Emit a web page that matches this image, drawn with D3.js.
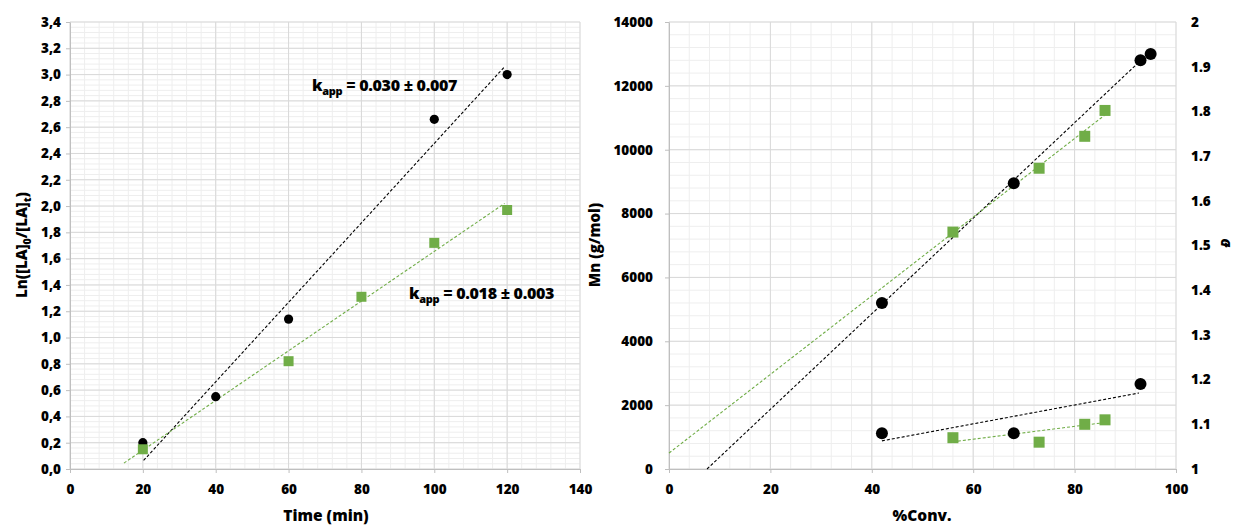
<!DOCTYPE html>
<html>
<head>
<meta charset="utf-8">
<script src="https://cdn.jsdelivr.net/npm/d3@7"></script>
<style>
  body { margin: 0; background: #fff; }
  svg { display: block; font-family: "Open Sans", Lato, sans-serif; font-weight: bold; }
</style>
</head>
<body>
<svg id="chart" width="1235" height="525"></svg>
<script>
// ---------- Left chart data ----------
const timeBlack = [20, 40, 60, 100, 120];
const lnBlack   = [0.20, 0.55, 1.14, 2.66, 3.00];
const timeGreen = [20, 60, 80, 100, 120];
const lnGreen   = [0.15, 0.82, 1.31, 1.72, 1.97];
const trendLeftBlack = [[20.2, 0.065], [119.3, 3.06]];
const trendLeftGreen = [[14.8, 0.045], [119.3, 2.02]];
const leftXTicks = [0, 20, 40, 60, 80, 100, 120, 140];
const leftYTicks = [0, 0.2, 0.4, 0.6, 0.8, 1.0, 1.2, 1.4, 1.6, 1.8, 2.0, 2.2, 2.4, 2.6, 2.8, 3.0, 3.2, 3.4];
const kBlackLabel = ["k", "app", " = 0.030 ± 0.007"];
const kGreenLabel = ["k", "app", " = 0.018 ± 0.003"];

// ---------- Right chart data ----------
const convBlackMn = [42, 68, 93, 95];
const mnBlack     = [5200, 8950, 12800, 13000];
const convGreenMn = [56, 73, 82, 86];
const mnGreen     = [7420, 9420, 10420, 11230];
const convBlackD  = [42, 68, 93];
const dBlack      = [1.08, 1.08, 1.19];
const convGreenD  = [56, 73, 82, 86];
const dGreen      = [1.07, 1.06, 1.10, 1.11];
const trendMnBlack = [[7.5, 0], [92.6, 12730]];
const trendMnGreen = [[0, 500], [86, 11090]];
const trendDBlack  = [[42, 1.063], [92.7, 1.170]];
const trendDGreen  = [[56, 1.061], [86, 1.104]];
const rightXTicks  = [0, 20, 40, 60, 80, 100];
const rightYTicks  = [0, 2000, 4000, 6000, 8000, 10000, 12000, 14000];
const rightY2Ticks = [1, 1.1, 1.2, 1.3, 1.4, 1.5, 1.6, 1.7, 1.8, 1.9, 2];

const GREEN = "#70ad47";
const FONT = "'Open Sans', Lato, sans-serif";
const WEIGHT = 800;
const svg = d3.select("#chart").style("font-weight", WEIGHT);

function d3range(a, b, step) {
  const out = [];
  const n = Math.round((b - a) / step);
  for (let i = 0; i <= n; i++) out.push(a + i * step);
  return out;
}

function grid(g, x, y, xMinorStep, yMinorStep, xMajor, yMajor) {
  const [x0, x1] = x.domain(), [y0, y1] = y.domain();
  const xr = x.range(), yr = y.range();
  g.append("g").selectAll("line").data(d3range(x0, x1, xMinorStep)).join("line")
    .attr("x1", d => x(d)).attr("x2", d => x(d)).attr("y1", yr[0]).attr("y2", yr[1])
    .attr("stroke", "#eeeeee").attr("stroke-width", 1);
  g.append("g").selectAll("line").data(d3range(y0, y1, yMinorStep)).join("line")
    .attr("y1", d => y(d)).attr("y2", d => y(d)).attr("x1", xr[0]).attr("x2", xr[1])
    .attr("stroke", "#eeeeee").attr("stroke-width", 1);
  g.append("g").selectAll("line").data(xMajor).join("line")
    .attr("x1", d => x(d)).attr("x2", d => x(d)).attr("y1", yr[0]).attr("y2", yr[1])
    .attr("stroke", "#d9d9d9").attr("stroke-width", 1);
  g.append("g").selectAll("line").data(yMajor).join("line")
    .attr("y1", d => y(d)).attr("y2", d => y(d)).attr("x1", xr[0]).attr("x2", xr[1])
    .attr("stroke", "#d9d9d9").attr("stroke-width", 1);
}

function styleAxis(sel, fs) {
  sel.select(".domain").attr("stroke", "#bfbfbf");
  sel.selectAll(".tick line").attr("stroke", "#bfbfbf");
  sel.selectAll(".tick text").attr("fill", "#000").style("font-size", fs + "px")
     .style("font-weight", WEIGHT).style("font-family", FONT);
  sel.attr("font-family", null).attr("font-size", null);
}

function trend(g, x, y, pts, color) {
  g.append("path").datum(pts)
    .attr("d", d3.line().x(d => x(d[0])).y(d => y(d[1])))
    .attr("fill", "none").attr("stroke", color).attr("stroke-width", 1.1)
    .attr("stroke-dasharray", "3,2");
}

function circles(g, x, y, xs, ys, r) {
  g.append("g").selectAll("circle").data(xs.map((v, i) => [v, ys[i]])).join("circle")
    .attr("cx", d => x(d[0])).attr("cy", d => y(d[1])).attr("r", r).attr("fill", "#000");
}
function squares(g, x, y, xs, ys, s) {
  g.append("g").selectAll("rect").data(xs.map((v, i) => [v, ys[i]])).join("rect")
    .attr("x", d => x(d[0]) - s / 2).attr("y", d => y(d[1]) - s / 2)
    .attr("width", s).attr("height", s).attr("fill", GREEN);
}

function kLabel(g, xPos, yPos, parts) {
  const t = g.append("text").attr("x", xPos).attr("y", yPos)
    .style("font-size", "16px").attr("fill", "#000").style("letter-spacing", "-0.3px");
  t.append("tspan").text(parts[0]);
  t.append("tspan").text(parts[1]).attr("dy", 4).style("font-size", "11px");
  t.append("tspan").text(parts[2]).attr("dy", -4);
}

// ================= LEFT CHART =================
const xL = d3.scaleLinear().domain([0, 140]).range([70, 580]);
const yL = d3.scaleLinear().domain([0, 3.4]).range([469, 22]);
const gL = svg.append("g");
grid(gL, xL, yL, 4, 0.04, leftXTicks, leftYTicks);

const fmtComma = d => d3.format(".1f")(d).replace(".", ",");
gL.append("g").attr("transform", `translate(0,${yL(0)})`)
  .call(d3.axisBottom(xL).tickValues(leftXTicks).tickSize(4).tickPadding(11).tickSizeOuter(0))
  .call(s => styleAxis(s, 13.5));
gL.append("g").attr("transform", `translate(${xL(0)},0)`)
  .call(d3.axisLeft(yL).tickValues(leftYTicks).tickFormat(fmtComma).tickSize(4).tickPadding(5).tickSizeOuter(0))
  .call(s => styleAxis(s, 13.5));

trend(gL, xL, yL, trendLeftBlack, "#000");
trend(gL, xL, yL, trendLeftGreen, GREEN);
circles(gL, xL, yL, timeBlack, lnBlack, 4.6);
squares(gL, xL, yL, timeGreen, lnGreen, 10);

kLabel(gL, 312, 91, kBlackLabel);
kLabel(gL, 409, 299, kGreenLabel);

// axis titles
gL.append("text").attr("x", 326).attr("y", 521).attr("text-anchor", "middle")
  .style("font-size", "15.5px").text("Time (min)");
const yt = gL.append("text").attr("transform", "translate(27,245) rotate(-90)")
  .attr("text-anchor", "middle").style("font-size", "15px");
yt.append("tspan").text("Ln([LA]");
yt.append("tspan").text("0").attr("dy", 4).style("font-size", "10.5px");
yt.append("tspan").text("/[LA]").attr("dy", -4);
yt.append("tspan").text("t").attr("dy", 4).style("font-size", "10.5px");
yt.append("tspan").text(")").attr("dy", -4);

// ================= RIGHT CHART =================
const xR = d3.scaleLinear().domain([0, 100]).range([669, 1176]);
const yR = d3.scaleLinear().domain([0, 14000]).range([469, 22]);
const yR2 = d3.scaleLinear().domain([1, 2]).range([469, 22]);
const gR = svg.append("g");
grid(gR, xR, yR, 4, 400, rightXTicks, rightYTicks);

gR.append("g").attr("transform", `translate(0,${yR(0)})`)
  .call(d3.axisBottom(xR).tickValues(rightXTicks).tickSize(4).tickPadding(11).tickSizeOuter(0))
  .call(s => styleAxis(s, 13.5));
gR.append("g").attr("transform", `translate(${xR(0)},0)`)
  .call(d3.axisLeft(yR).tickValues(rightYTicks).tickFormat(d3.format("d")).tickSize(4).tickPadding(12).tickSizeOuter(0))
  .call(s => styleAxis(s, 13.5));
const ax2 = gR.append("g").attr("transform", `translate(${xR(100)},0)`)
  .call(d3.axisRight(yR2).tickValues(rightY2Ticks).tickFormat(d => d3.format("")(+d.toFixed(1))).tickSize(0).tickPadding(15).tickSizeOuter(0))
  .call(s => styleAxis(s, 13.5));
ax2.select(".domain").remove();

trend(gR, xR, yR, trendMnBlack, "#000");
trend(gR, xR, yR, trendMnGreen, GREEN);
trend(gR, xR, yR2, trendDBlack, "#000");
trend(gR, xR, yR2, trendDGreen, GREEN);
circles(gR, xR, yR, convBlackMn, mnBlack, 6);
squares(gR, xR, yR, convGreenMn, mnGreen, 11);
circles(gR, xR, yR2, convBlackD, dBlack, 6);
squares(gR, xR, yR2, convGreenD, dGreen, 11);

gR.append("text").attr("x", 922).attr("y", 521).attr("text-anchor", "middle")
  .style("font-size", "15.5px").text("%Conv.");
gR.append("text").attr("transform", "translate(600,245) rotate(-90)")
  .attr("text-anchor", "middle").style("font-size", "15px").text("Mn (g/mol)");
gR.append("text").attr("transform", "translate(1230,243) rotate(-90)")
  .attr("text-anchor", "middle").style("font-size", "13px").style("font-style", "italic").text("Đ");
</script>
</body>
</html>
